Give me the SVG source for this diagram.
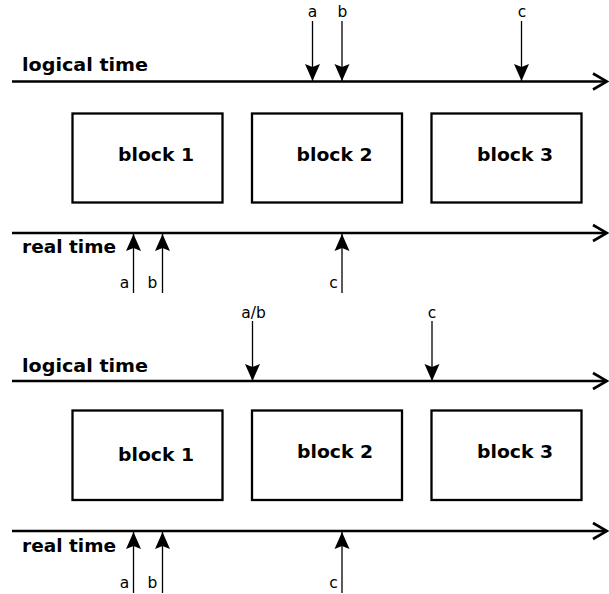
<svg xmlns="http://www.w3.org/2000/svg" width="609" height="594" viewBox="0 0 609 594">
<style>
.axis{stroke:#000;stroke-width:2.6;fill:none}
.ev{stroke:#000;stroke-width:1.3;fill:none}
.box{fill:#fff;stroke:#000;stroke-width:2.3}
.lbl{font-family:"DejaVu Sans",sans-serif;font-weight:bold;font-size:18px;fill:#000}
.sm{font-family:"DejaVu Sans",sans-serif;font-size:15.5px;fill:#000;text-anchor:middle}
</style>
<defs>
<marker id="head" markerUnits="userSpaceOnUse" viewBox="-18 -9 19 18" refX="0" refY="0" markerWidth="19" markerHeight="18" orient="auto">
<path d="M0,0 L-17,-7.5 L-14,0 L-17,7.5 Z" fill="#000"/>
</marker>
<marker id="open" markerUnits="userSpaceOnUse" viewBox="-16 -10 18 20" refX="0" refY="0" markerWidth="18" markerHeight="20" orient="auto">
<path d="M-14,-8 L0,0 L-14,8" fill="none" stroke="#000" stroke-width="2.6"/>
</marker>
</defs>

<g id="axes">
<line class="axis" x1="12" y1="81.5" x2="607" y2="81.5" marker-end="url(#open)"/>
<line class="axis" x1="12" y1="233" x2="607" y2="233" marker-end="url(#open)"/>
<line class="axis" x1="12" y1="381" x2="607" y2="381" marker-end="url(#open)"/>
<line class="axis" x1="12" y1="531" x2="607" y2="531" marker-end="url(#open)"/>
</g>

<g id="axis-labels">
<text class="lbl" x="22" y="71" textLength="126" lengthAdjust="spacingAndGlyphs">logical time</text>
<text class="lbl" x="22" y="253" textLength="94" lengthAdjust="spacingAndGlyphs">real time</text>
<text class="lbl" x="22" y="372" textLength="126" lengthAdjust="spacingAndGlyphs">logical time</text>
<text class="lbl" x="22" y="552" textLength="94" lengthAdjust="spacingAndGlyphs">real time</text>
</g>

<g id="block1-top">
<rect class="box" x="72.5" y="113.5" width="150" height="89"/>
<text class="lbl" x="118" y="161" textLength="76" lengthAdjust="spacingAndGlyphs">block 1</text>
</g>
<g id="block2-top">
<rect class="box" x="252" y="113.5" width="150" height="89"/>
<text class="lbl" x="296.5" y="161" textLength="76" lengthAdjust="spacingAndGlyphs">block 2</text>
</g>
<g id="block3-top">
<rect class="box" x="431.5" y="113.5" width="150" height="89"/>
<text class="lbl" x="477" y="161" textLength="76" lengthAdjust="spacingAndGlyphs">block 3</text>
</g>

<g id="block1-bottom">
<rect class="box" x="72.5" y="410.5" width="150" height="89.5"/>
<text class="lbl" x="118" y="461" textLength="76" lengthAdjust="spacingAndGlyphs">block 1</text>
</g>
<g id="block2-bottom">
<rect class="box" x="252" y="410.5" width="150" height="89.5"/>
<text class="lbl" x="297" y="458" textLength="76" lengthAdjust="spacingAndGlyphs">block 2</text>
</g>
<g id="block3-bottom">
<rect class="box" x="431.5" y="410.5" width="150" height="89.5"/>
<text class="lbl" x="477" y="458" textLength="76" lengthAdjust="spacingAndGlyphs">block 3</text>
</g>

<g id="connectors">
<line class="ev" x1="312.5" y1="21" x2="312.5" y2="81" marker-end="url(#head)"/>
<line class="ev" x1="342" y1="21" x2="342" y2="81" marker-end="url(#head)"/>
<line class="ev" x1="521.5" y1="21" x2="521.5" y2="81" marker-end="url(#head)"/>
<line class="ev" x1="133.5" y1="293" x2="133.5" y2="234" marker-end="url(#head)"/>
<line class="ev" x1="162.5" y1="293" x2="162.5" y2="234" marker-end="url(#head)"/>
<line class="ev" x1="342" y1="293" x2="342" y2="234" marker-end="url(#head)"/>
<line class="ev" x1="252.5" y1="321" x2="252.5" y2="381" marker-end="url(#head)"/>
<line class="ev" x1="432" y1="321" x2="432" y2="381" marker-end="url(#head)"/>
<line class="ev" x1="133.5" y1="593" x2="133.5" y2="532" marker-end="url(#head)"/>
<line class="ev" x1="162.5" y1="593" x2="162.5" y2="532" marker-end="url(#head)"/>
<line class="ev" x1="342" y1="593" x2="342" y2="532" marker-end="url(#head)"/>
</g>

<g id="event-labels">
<text class="sm" x="312.5" y="17">a</text>
<text class="sm" x="342.5" y="17">b</text>
<text class="sm" x="522" y="17">c</text>
<text class="sm" x="124.5" y="288">a</text>
<text class="sm" x="152.5" y="288">b</text>
<text class="sm" x="333.5" y="288">c</text>
<text class="sm" x="253.5" y="318">a/b</text>
<text class="sm" x="432" y="318">c</text>
<text class="sm" x="124.5" y="588">a</text>
<text class="sm" x="152.5" y="588">b</text>
<text class="sm" x="333.5" y="588">c</text>
</g>
</svg>
